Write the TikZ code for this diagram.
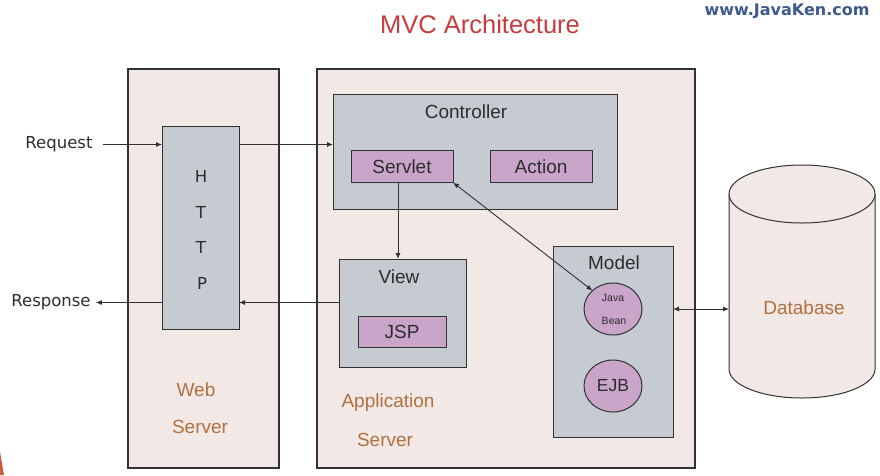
\documentclass[tikz,border=0pt]{standalone}
\usepackage{fontspec}
\setmainfont{Liberation Sans}
\newfontfamily\dejavu{DejaVu Sans}
\usetikzlibrary{arrows.meta,shapes.geometric}
\definecolor{srvfill}{RGB}{242,232,229}
\definecolor{grayfill}{RGB}{198,203,210}
\definecolor{lilfill}{RGB}{201,166,201}
\definecolor{linec}{RGB}{50,50,50}
\definecolor{txt}{RGB}{45,45,45}
\definecolor{brownt}{RGB}{176,112,64}
\definecolor{titlered}{RGB}{200,60,60}
\definecolor{siteblue}{RGB}{60,90,140}
\definecolor{wedge}{RGB}{200,95,60}
\begin{document}
\begin{tikzpicture}[x=1pt,y=-1pt,
  outerbox/.style={draw=linec, line width=1.1pt, fill=srvfill, inner sep=0pt, outer sep=0pt},
  graybox/.style={draw=linec, line width=1pt, fill=grayfill, inner sep=0pt, outer sep=0pt},
  lilbox/.style={draw=linec, line width=1pt, fill=lilfill, inner sep=0pt, outer sep=0pt, minimum width=102pt, minimum height=32pt, font=\fontsize{19}{19}\selectfont, text=txt},
  lilcirc/.style={ellipse, draw=linec, line width=1pt, fill=lilfill, inner sep=0pt, outer sep=0pt, minimum width=58pt, minimum height=52pt, text=txt},
  lbl/.style={font=\fontsize{19}{19}\selectfont, text=txt, inner sep=0pt},
  brlbl/.style={font=\fontsize{19}{19}\selectfont, text=brownt, inner sep=0pt},
  dvlbl/.style={font=\dejavu\fontsize{16.5}{16.5}\selectfont, text=txt, inner sep=0pt},
  conn/.style={draw=linec, line width=0.9pt, -{Latex[length=6pt,width=5pt]}},
  dconn/.style={draw=linec, line width=0.9pt, {Latex[length=6pt,width=5pt]}-{Latex[length=6pt,width=5pt]}}
]
\fill[white] (0,0) rectangle (880,475);
\useasboundingbox (0,0) rectangle (880,475);
\fill[wedge] (0,452) -- (4,475) -- (0,475) -- cycle;

% titles
\node[font=\fontsize{25.5}{25.5}\selectfont, text=titlered, inner sep=0pt] (title) at (480,24) {MVC Architecture};
\node[font=\dejavu\bfseries\fontsize{16}{16}\selectfont, text=siteblue, inner sep=0pt] (site) at (787,11) {www.JavaKen.com};

% servers
\node[outerbox, minimum width=151pt, minimum height=399pt] (web) at (203.5,268.5) {};
\node[outerbox, minimum width=378pt, minimum height=399pt] (app) at (506,268.5) {};

% HTTP
\node[graybox, minimum width=77pt, minimum height=203pt] (http) at (200.5,227.5) {};
\node[dvlbl] (h1) at (201,176) {H};
\node[dvlbl] (h2) at (201,212) {T};
\node[dvlbl] (h3) at (201,247) {T};
\node[dvlbl] (h4) at (202,283) {P};

% controller
\node[graybox, minimum width=284pt, minimum height=115pt] (ctrl) at (475,151.5) {};
\node[lbl] (ctrllbl) at (466,112) {Controller};
\node[lilbox] (servlet) at (402,166.5) {Servlet};
\node[lilbox] (action) at (541,166.5) {Action};

% view
\node[graybox, minimum width=127pt, minimum height=108pt] (view) at (402.5,313) {};
\node[lbl] (viewlbl) at (399,277) {View};
\node[lilbox, minimum width=88pt, minimum height=31pt] (jsp) at (402,331.5) {JSP};

% model
\node[graybox, minimum width=120pt, minimum height=191pt] (model) at (613,341.5) {};
\node[lbl] (modellbl) at (614,263) {Model};
\node[lilcirc] (jb) at (613,309) {};
\node[font=\fontsize{10.5}{10.5}\selectfont, text=txt, inner sep=0pt] (jbl1) at (613,298) {Java};
\node[font=\fontsize{10.5}{10.5}\selectfont, text=txt, inner sep=0pt] (jbl2) at (614,321) {Bean};
\node[lilcirc, font=\fontsize{17.5}{17.5}\selectfont] (ejb) at (613,386) {EJB};

% server labels
\node[brlbl] (web1) at (196,390) {Web};
\node[brlbl] (web2) at (200,427) {Server};
\node[brlbl] (app1) at (388,403) {Application};
\node[brlbl] (app2) at (385,440) {Server};

% database
\filldraw[draw=linec, line width=1pt, fill=srvfill] (729,194) -- (729,369) arc[start angle=180, end angle=0, x radius=73, y radius=29] -- (875,194);
\filldraw[draw=linec, line width=1pt, fill=srvfill] (802,194) ellipse[x radius=73, y radius=29];
\coordinate (dbw) at (729,309);
\node[brlbl] (dblbl) at (804,308) {Database};

% request / response
\node[dvlbl] (req) at (59,144.5) {Request};
\node[dvlbl] (resp) at (51,302.5) {Response};

% connectors
\draw[conn] ([xshift=10pt]req.east) -- (http.west |- req);
\draw[conn] (http.east |- req) -- (ctrl.west |- req);
\draw[conn] (http.west |- resp) -- ([xshift=5pt]resp.east);
\draw[conn] (view.west |- resp) -- (http.east |- resp);
\draw[conn] ([xshift=-4pt]servlet.south) -- ([xshift=-4pt]servlet.south |- view.north);
\draw[dconn] (servlet.south east) -- (jb.north west);
\draw[dconn] (model.east |- dbw) -- (dbw);
\end{tikzpicture}
\end{document}
